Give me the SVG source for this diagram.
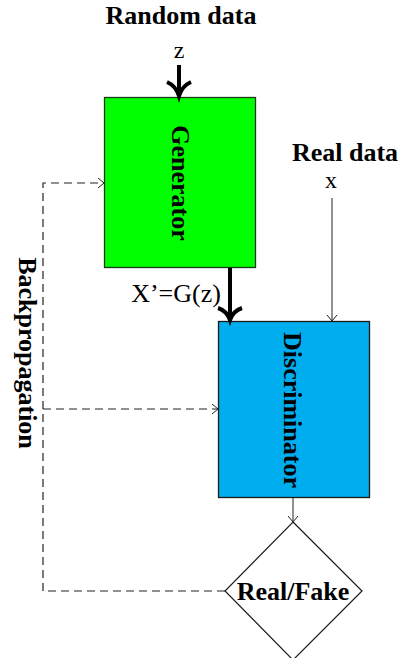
<svg xmlns="http://www.w3.org/2000/svg" width="402" height="658" viewBox="0 0 402 658">
<defs>
<style>
.lbl{font-family:"Liberation Serif","Times New Roman",serif;font-size:26px;font-weight:bold;fill:#000}
.reg{font-family:"Liberation Serif","Times New Roman",serif;fill:#000}
.thick{fill:none;stroke:#000;stroke-width:4}
.thin{fill:none;stroke:#222;stroke-width:1}
.dash{fill:none;stroke:#222;stroke-width:1.2;stroke-dasharray:8 5}
</style>
</defs>
<rect width="402" height="658" fill="#fff"/>
<text class="lbl" x="181" y="24" text-anchor="middle">Random data</text>
<text class="reg" x="179" y="58" font-size="24" text-anchor="middle">z</text>
<text class="lbl" x="345" y="161" text-anchor="middle">Real data</text>
<text class="reg" x="331" y="188" font-size="24" text-anchor="middle">x</text>
<text class="reg" x="176" y="302" font-size="26" text-anchor="middle">X’=G(z)</text>
<text class="lbl" transform="translate(27,353) rotate(90)" text-anchor="middle" dominant-baseline="central">Backpropagation</text>
<g id="generator">
<rect x="104.5" y="97.5" width="151" height="170" fill="#00ff00" stroke="#1a3a1a" stroke-width="1.3"/>
<text class="lbl" transform="translate(180,183) rotate(90)" text-anchor="middle" dominant-baseline="central">Generator</text>
</g>
<g id="discriminator">
<rect x="218.5" y="321.5" width="151" height="176" fill="#00aeef" stroke="#1a1a1a" stroke-width="1.3"/>
<text class="lbl" transform="translate(292,410) rotate(90)" text-anchor="middle" dominant-baseline="central">Discriminator</text>
</g>
<g id="realfake">
<polygon points="293,522 362,591 293,660 225,591" fill="#fff" stroke="#1a1a1a" stroke-width="1.2"/>
<text class="lbl" x="293" y="600" text-anchor="middle">Real/Fake</text>
</g>
<g id="connectors">
<line class="thick" x1="179" y1="65" x2="179" y2="95"/>
<path class="thick" d="M167,82 Q176,86 179,96 Q182,86 191,82"/>
<line class="thick" x1="230" y1="268" x2="230" y2="319"/>
<path class="thick" d="M218,308 Q227,311 230,320 Q233,311 242,308"/>
<line class="thin" x1="332" y1="198" x2="332" y2="321"/>
<path class="thin" d="M327,315 L332,321 L337,315"/>
<line class="thin" x1="293" y1="498" x2="293" y2="522"/>
<path class="thin" d="M288,516 L293,522 L298,516"/>
<path class="dash" d="M225,591 H43 V183 H103"/>
<path class="thin" d="M98,178 L104,183 L98,188"/>
<path class="dash" d="M43,409 H217"/>
<path class="thin" d="M212,404 L218,409 L212,414"/>
</g>
</svg>
